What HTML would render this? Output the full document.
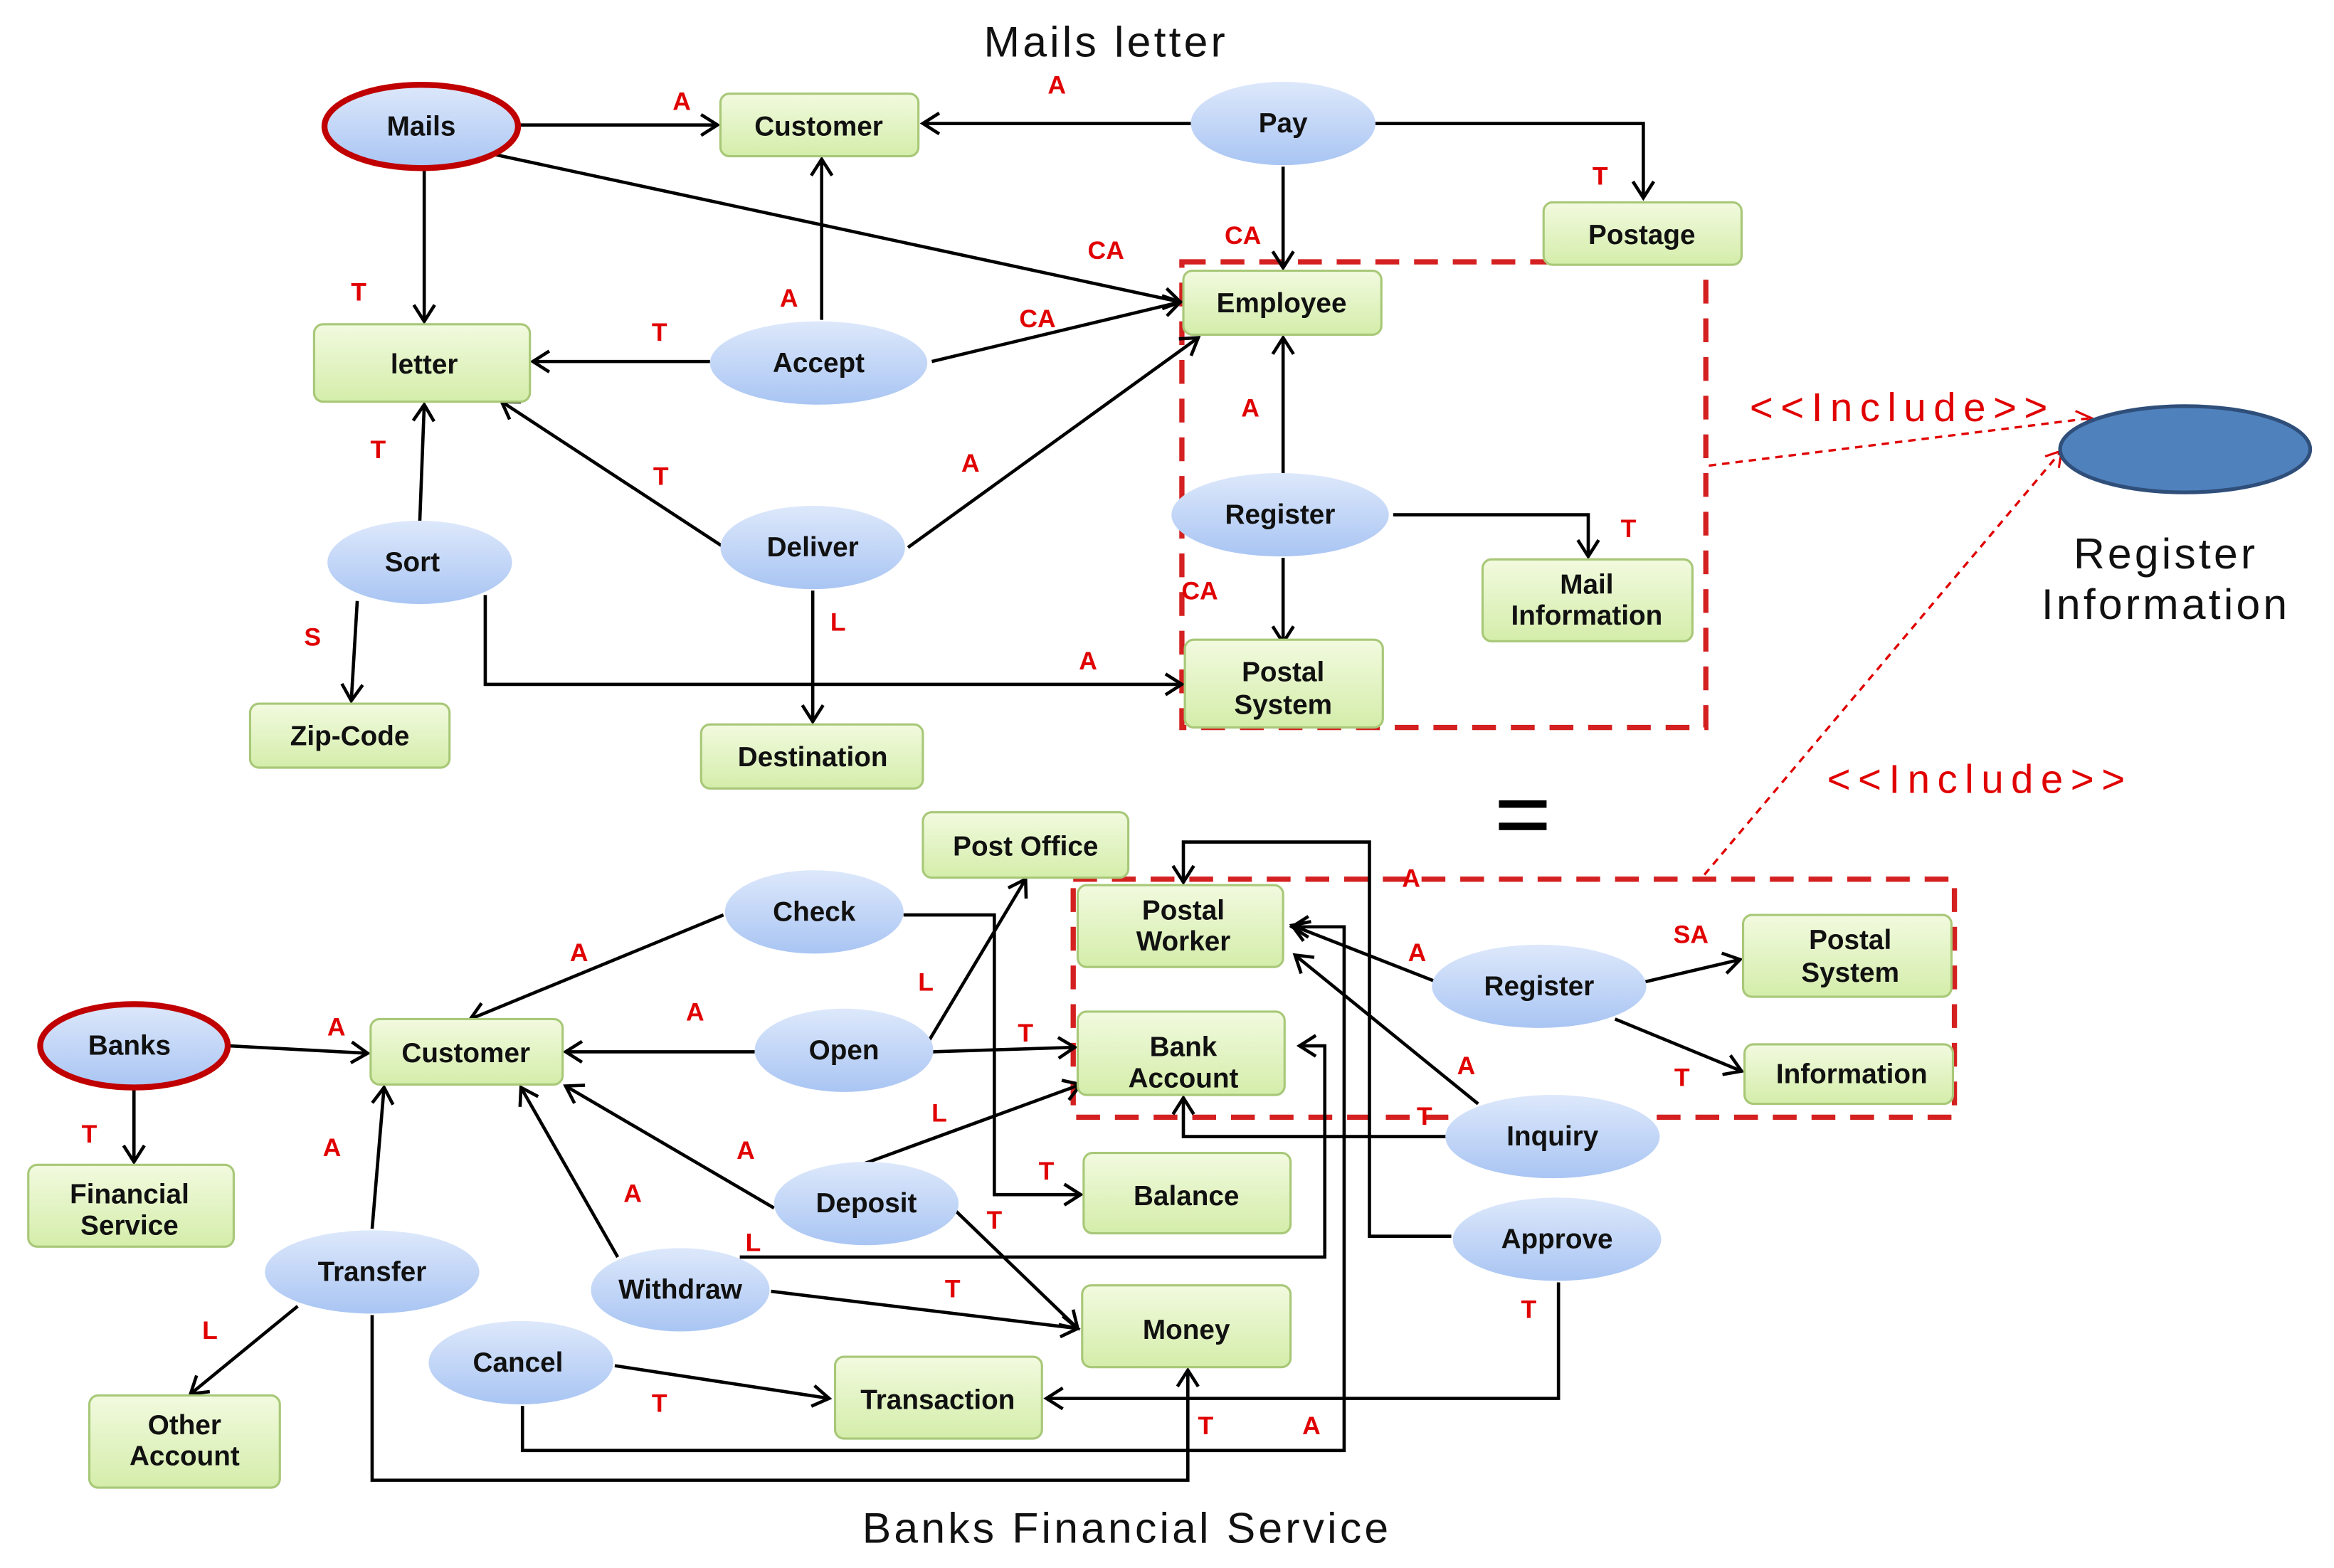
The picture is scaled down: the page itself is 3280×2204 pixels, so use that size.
<!DOCTYPE html>
<html><head><meta charset="utf-8"><style>
html,body{margin:0;padding:0;background:#fff;}
svg{display:block;}
text{font-family:"Liberation Sans",sans-serif;}
.n{font-weight:bold;font-size:18.5px;fill:#111;text-anchor:middle;}
.l{font-weight:bold;font-size:17px;fill:#e00000;text-anchor:middle;}
.e{stroke:#000;stroke-width:2.2;fill:none;marker-end:url(#ar);}
.box{fill:url(#gg);stroke:#a8c878;stroke-width:1.5;}
.ell{fill:url(#bg);stroke:none;}
.t{font-size:29px;fill:#111;text-anchor:middle;letter-spacing:2px;}
</style></head><body>
<svg width="3280" height="2204" viewBox="0 0 1568 1054" preserveAspectRatio="none" xmlns="http://www.w3.org/2000/svg">
<defs>
<linearGradient id="gg" x1="0" y1="0" x2="0" y2="1"><stop offset="0" stop-color="#f2fadf"/><stop offset="1" stop-color="#d4edaa"/></linearGradient>
<linearGradient id="bg" x1="0" y1="0" x2="0" y2="1"><stop offset="0" stop-color="#dde8fb"/><stop offset="1" stop-color="#a9c5f3"/></linearGradient>
<marker id="ar" markerWidth="16" markerHeight="16" refX="12" refY="8" orient="auto" markerUnits="userSpaceOnUse"><path d="M1,1 L12,8 L1,15" fill="none" stroke="#000" stroke-width="2.2"/></marker>
<marker id="rar" markerWidth="14" markerHeight="14" refX="11" refY="7" orient="auto" markerUnits="userSpaceOnUse"><path d="M1,1 L11,7 L1,13" fill="none" stroke="#e00000" stroke-width="1.5"/></marker>
</defs>

<text class="t" x="743" y="38">Mails letter</text>
<text class="t" x="1455" y="382">Register</text>
<text class="t" x="1455" y="416">Information</text>
<text class="t" x="757" y="1037">Banks Financial Service</text>
<rect x="1007" y="538" width="32" height="5" fill="#000"/><rect x="1007" y="553" width="32" height="5" fill="#000"/>
<text x="1278" y="283" font-size="27" fill="#e00000" text-anchor="middle" letter-spacing="5">&lt;&lt;Include&gt;&gt;</text>
<text x="1330" y="533" font-size="27" fill="#e00000" text-anchor="middle" letter-spacing="5">&lt;&lt;Include&gt;&gt;</text>

<rect x="794" y="176" width="352" height="313" fill="none" stroke="#d42020" stroke-width="3.5" stroke-dasharray="16,10"/>
<rect x="721" y="591" width="592" height="160" fill="none" stroke="#d42020" stroke-width="3.5" stroke-dasharray="16,10"/>
<line x1="1148" y1="313" x2="1405" y2="281" stroke="#e00000" stroke-width="1.6" stroke-dasharray="5,4" marker-end="url(#rar)"/>
<line x1="1145" y1="588" x2="1385" y2="303" stroke="#e00000" stroke-width="1.6" stroke-dasharray="5,4" marker-end="url(#rar)"/>
<ellipse cx="1468" cy="302" rx="84" ry="29" fill="#4f81bd" stroke="#2f4f7a" stroke-width="2.5"/>

<path class="e" d="M349,84 L482,84"/>
<path class="e" d="M800,83 L620,83"/>
<path class="e" d="M924,83 L1104,83 L1104,133"/>
<path class="e" d="M862,112 L862,180"/>
<path class="e" d="M333,104 L793,203"/>
<path class="e" d="M285,114 L285,216"/>
<path class="e" d="M552,215 L552,107"/>
<path class="e" d="M477,243 L358,243"/>
<path class="e" d="M626,243 L793,203"/>
<path class="e" d="M610,368 L805,227"/>
<path class="e" d="M485,367 L337,270"/>
<path class="e" d="M546,397 L546,485"/>
<path class="e" d="M282,351 L285,272"/>
<path class="e" d="M240,404 L236,471"/>
<path class="e" d="M326,400 L326,460 L794,460"/>
<path class="e" d="M862,318 L862,227"/>
<path class="e" d="M936,346 L1067,346 L1067,374"/>
<path class="e" d="M862,375 L862,432"/>

<path class="e" d="M154,703 L247,708"/>
<path class="e" d="M90,732 L90,781"/>
<path class="e" d="M486,615 L316,685"/>
<path class="e" d="M607,615 L668,615 L668,803 L726,803"/>
<path class="e" d="M507,707 L380,707"/>
<path class="e" d="M622,703 L689,591"/>
<path class="e" d="M626,707 L722,704"/>
<path class="e" d="M520,812 L380,730"/>
<path class="e" d="M581,782 L726,729"/>
<path class="e" d="M640,812 L724,893"/>
<path class="e" d="M415,845 L350,731"/>
<path class="e" d="M497,845 L890,845 L890,703 L873,703"/>
<path class="e" d="M518,868 L724,893"/>
<path class="e" d="M250,826 L258,731"/>
<path class="e" d="M200,878 L128,937"/>
<path class="e" d="M250,884 L250,995 L798,995 L798,921"/>
<path class="e" d="M351,945 L351,975 L903,975 L903,623 L868,623"/>
<path class="e" d="M975,831 L920,831 L920,566 L795,566 L795,593"/>
<path class="e" d="M413,918 L557,940"/>
<path class="e" d="M1047,862 L1047,940 L703,940"/>
<path class="e" d="M965,660 L868,622"/>
<path class="e" d="M1105,660 L1169,645"/>
<path class="e" d="M1085,685 L1170,720"/>
<path class="e" d="M993,742 L870,642"/>
<path class="e" d="M972,764 L795,764 L795,738"/>

<ellipse cx="283" cy="85" rx="65" ry="28" class="ell" style="stroke:#c00000;stroke-width:4"/>
<text class="n" x="283" y="91">Mails</text>
<rect class="box" x="484" y="63" width="133" height="42" rx="6"/><text class="n" x="550" y="91">Customer</text>
<ellipse cx="862" cy="83" rx="62" ry="28" class="ell"/><text class="n" x="862" y="89">Pay</text>
<rect class="box" x="1037" y="136" width="133" height="42" rx="6"/><text class="n" x="1103" y="164">Postage</text>
<rect class="box" x="795" y="182" width="133" height="43" rx="6"/><text class="n" x="861" y="210">Employee</text>
<rect class="box" x="211" y="218" width="145" height="52" rx="6"/><text class="n" x="285" y="251">letter</text>
<ellipse cx="550" cy="244" rx="73" ry="28" class="ell"/><text class="n" x="550" y="250">Accept</text>
<ellipse cx="860" cy="346" rx="73" ry="28" class="ell"/><text class="n" x="860" y="352">Register</text>
<rect class="box" x="996" y="376" width="141" height="55" rx="6"/><text class="n" x="1066" y="399">Mail</text><text class="n" x="1066" y="420">Information</text>
<ellipse cx="282" cy="378" rx="62" ry="28" class="ell"/><text class="n" x="277" y="384">Sort</text>
<ellipse cx="546" cy="368" rx="62" ry="28" class="ell"/><text class="n" x="546" y="374">Deliver</text>
<rect class="box" x="168" y="473" width="134" height="43" rx="6"/><text class="n" x="235" y="501">Zip-Code</text>
<rect class="box" x="471" y="487" width="149" height="43" rx="6"/><text class="n" x="546" y="515">Destination</text>
<rect class="box" x="796" y="430" width="133" height="59" rx="6"/><text class="n" x="862" y="458">Postal</text><text class="n" x="862" y="480">System</text>

<rect class="box" x="620" y="546" width="138" height="44" rx="6"/><text class="n" x="689" y="575">Post Office</text>
<ellipse cx="547" cy="613" rx="60" ry="28" class="ell"/><text class="n" x="547" y="619">Check</text>
<rect class="box" x="724" y="595" width="138" height="55" rx="6"/><text class="n" x="795" y="618">Postal</text><text class="n" x="795" y="639">Worker</text>
<ellipse cx="1034" cy="663" rx="72" ry="28" class="ell"/><text class="n" x="1034" y="669">Register</text>
<rect class="box" x="1171" y="615" width="140" height="55" rx="6"/><text class="n" x="1243" y="638">Postal</text><text class="n" x="1243" y="660">System</text>
<ellipse cx="90" cy="703" rx="63" ry="28" class="ell" style="stroke:#c00000;stroke-width:4"/><text class="n" x="87" y="709">Banks</text>
<rect class="box" x="249" y="685" width="129" height="44" rx="6"/><text class="n" x="313" y="714">Customer</text>
<ellipse cx="567" cy="706" rx="60" ry="28" class="ell"/><text class="n" x="567" y="712">Open</text>
<rect class="box" x="724" y="680" width="139" height="56" rx="6"/><text class="n" x="795" y="710">Bank</text><text class="n" x="795" y="731">Account</text>
<rect class="box" x="1172" y="702" width="140" height="40" rx="6"/><text class="n" x="1244" y="728">Information</text>
<ellipse cx="1043" cy="764" rx="72" ry="28" class="ell"/><text class="n" x="1043" y="770">Inquiry</text>
<rect class="box" x="19" y="783" width="138" height="55" rx="6"/><text class="n" x="87" y="809">Financial</text><text class="n" x="87" y="830">Service</text>
<ellipse cx="582" cy="809" rx="62" ry="28" class="ell"/><text class="n" x="582" y="815">Deposit</text>
<rect class="box" x="728" y="775" width="139" height="54" rx="6"/><text class="n" x="797" y="810">Balance</text>
<ellipse cx="1046" cy="833" rx="70" ry="28" class="ell"/><text class="n" x="1046" y="839">Approve</text>
<ellipse cx="250" cy="855" rx="72" ry="28" class="ell"/><text class="n" x="250" y="861">Transfer</text>
<ellipse cx="457" cy="867" rx="60" ry="28" class="ell"/><text class="n" x="457" y="873">Withdraw</text>
<rect class="box" x="727" y="864" width="140" height="55" rx="6"/><text class="n" x="797" y="900">Money</text>
<ellipse cx="350" cy="916" rx="62" ry="28" class="ell"/><text class="n" x="348" y="922">Cancel</text>
<rect class="box" x="561" y="912" width="139" height="55" rx="6"/><text class="n" x="630" y="947">Transaction</text>
<rect class="box" x="60" y="938" width="128" height="62" rx="6"/><text class="n" x="124" y="964">Other</text><text class="n" x="124" y="985">Account</text>

<text class="l" x="458" y="74">A</text>
<text class="l" x="710" y="63">A</text>
<text class="l" x="1075" y="124">T</text>
<text class="l" x="835" y="164">CA</text>
<text class="l" x="743" y="174">CA</text>
<text class="l" x="241" y="202">T</text>
<text class="l" x="530" y="206">A</text>
<text class="l" x="443" y="229">T</text>
<text class="l" x="697" y="220">CA</text>
<text class="l" x="652" y="317">A</text>
<text class="l" x="444" y="326">T</text>
<text class="l" x="563" y="424">L</text>
<text class="l" x="254" y="308">T</text>
<text class="l" x="210" y="434">S</text>
<text class="l" x="731" y="450">A</text>
<text class="l" x="840" y="280">A</text>
<text class="l" x="1094" y="361">T</text>
<text class="l" x="806" y="403">CA</text>

<text class="l" x="226" y="696">A</text>
<text class="l" x="60" y="768">T</text>
<text class="l" x="389" y="646">A</text>
<text class="l" x="703" y="793">T</text>
<text class="l" x="467" y="686">A</text>
<text class="l" x="622" y="666">L</text>
<text class="l" x="689" y="700">T</text>
<text class="l" x="501" y="779">A</text>
<text class="l" x="631" y="754">L</text>
<text class="l" x="668" y="826">T</text>
<text class="l" x="425" y="808">A</text>
<text class="l" x="506" y="841">L</text>
<text class="l" x="640" y="872">T</text>
<text class="l" x="223" y="777">A</text>
<text class="l" x="141" y="900">L</text>
<text class="l" x="810" y="964">T</text>
<text class="l" x="881" y="964">A</text>
<text class="l" x="948" y="596">A</text>
<text class="l" x="443" y="949">T</text>
<text class="l" x="1027" y="886">T</text>
<text class="l" x="952" y="646">A</text>
<text class="l" x="1136" y="634">SA</text>
<text class="l" x="1130" y="730">T</text>
<text class="l" x="985" y="722">A</text>
<text class="l" x="957" y="756">T</text>
</svg>
</body></html>
